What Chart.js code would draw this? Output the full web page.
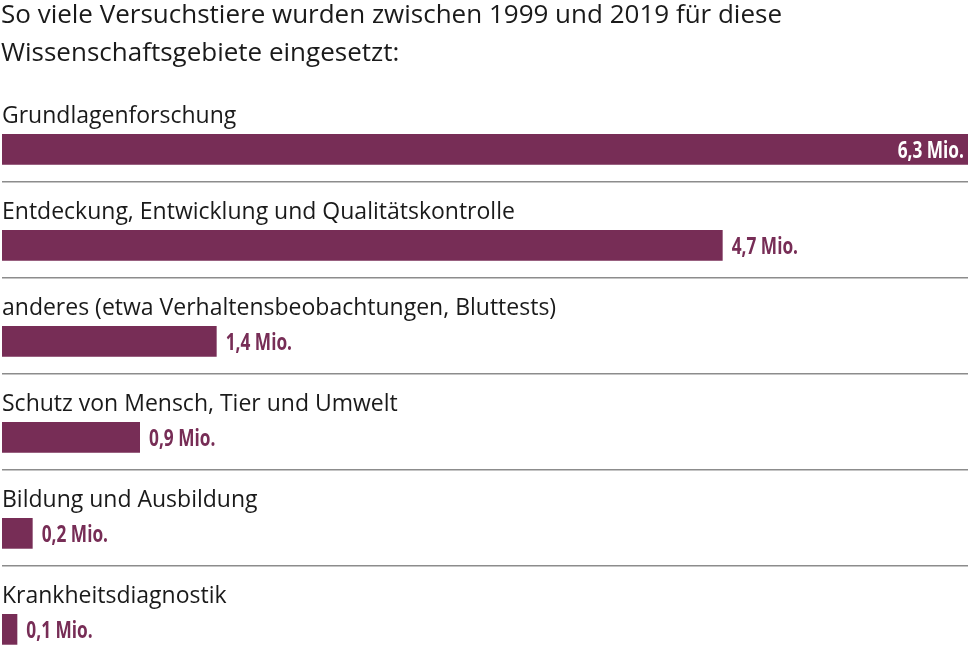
<!DOCTYPE html>
<html lang="de">
<head>
<meta charset="utf-8">
<title>Versuchstiere nach Wissenschaftsgebiet</title>
<script src="https://cdn.jsdelivr.net/npm/chart.js@4.4.1/dist/chart.umd.min.js"></script>
<style>
  html, body { margin: 0; padding: 0; background: #fff; overflow: hidden; }
  #wrap { position: relative; width: 971px; height: 662px; }
</style>
</head>
<body>
<div id="wrap"><canvas id="chBar"></canvas></div>
<script>
// Titel, Kategorien und Werte (Mio. Tiere, 1999-2019)
const TITEL = [
  "So viele Versuchstiere wurden zwischen 1999 und 2019 für diese",
  "Wissenschaftsgebiete eingesetzt:"
];
const GEBIETE = [
  "Grundlagenforschung",
  "Entdeckung, Entwicklung und Qualitätskontrolle",
  "anderes (etwa Verhaltensbeobachtungen, Bluttests)",
  "Schutz von Mensch, Tier und Umwelt",
  "Bildung und Ausbildung",
  "Krankheitsdiagnostik"
];
const TIERE_MIO = [6.3, 4.7, 1.4, 0.9, 0.2, 0.1];
const PLATZHALTER = GEBIETE.map(() => null); // leere Zeile fuer die Beschriftung ueber dem Balken

const FARBE_BALKEN = "#772d56";
const FARBE_TEXT = "#1a1a1a";
const SCHRIFT = "'Open Sans', 'Noto Sans', sans-serif";
const STAUCHUNG = 0.72; // Wertelabels sind im Original eine schmale Schrift

/** Zeichnet Titel, Kategorienamen ueber den Balken und die Wertelabels. */
const beschriftung = {
  id: "beschriftung",
  afterDraw(chart) {
    const ctx = chart.ctx;
    ctx.save();

    ctx.fillStyle = FARBE_TEXT;
    ctx.textAlign = "left";
    ctx.textBaseline = "alphabetic";
    ctx.font = "26px " + SCHRIFT;
    ctx.fillText(TITEL[0], 1, 23);
    ctx.fillText(TITEL[1], 1, 61);

    const meta = chart.getDatasetMeta(1);
    const maxWert = Math.max(...TIERE_MIO);
    meta.data.forEach((bar, i) => {
      const oben = bar.y - bar.height / 2;

      ctx.fillStyle = FARBE_TEXT;
      ctx.textAlign = "left";
      ctx.font = "23px " + SCHRIFT;
      ctx.fillText(GEBIETE[i], 2, oben - 11);

      const text = TIERE_MIO[i].toFixed(1).replace(".", ",") + " Mio.";
      ctx.font = "bold 24px " + SCHRIFT;
      const breite = ctx.measureText(text).width * STAUCHUNG;
      const x = TIERE_MIO[i] === maxWert ? bar.x - 4 - breite : bar.x + 9;
      ctx.save();
      ctx.translate(x, bar.y + 9);
      ctx.scale(STAUCHUNG, 1);
      ctx.fillStyle = TIERE_MIO[i] === maxWert ? "#ffffff" : FARBE_BALKEN;
      ctx.fillText(text, 0, 0);
      ctx.restore();
    });
    ctx.restore();
  }
};

new Chart(document.getElementById("chBar"), {
  type: "bar",
  data: {
    labels: GEBIETE,
    datasets: [
      { data: PLATZHALTER, backgroundColor: "transparent" },
      { data: TIERE_MIO, backgroundColor: FARBE_BALKEN, borderWidth: 0 }
    ]
  },
  options: {
    indexAxis: "y",
    responsive: true,
    maintainAspectRatio: false,
    animation: false,
    categoryPercentage: 0.64,
    barPercentage: 1,
    layout: { padding: { top: 86, left: 2, right: 3, bottom: 0 } },
    plugins: { legend: { display: false }, tooltip: { enabled: false } },
    scales: {
      x: { display: false, min: 0, max: 6.3 },
      y: {
        ticks: { display: false },
        border: { display: false },
        grid: {
          offset: true,
          drawTicks: false,
          lineWidth: 1.5,
          color: c => (c.index === 0 ? "transparent" : "#8c8c8c")
        }
      }
    }
  },
  plugins: [beschriftung]
});
</script>
</body>
</html>
